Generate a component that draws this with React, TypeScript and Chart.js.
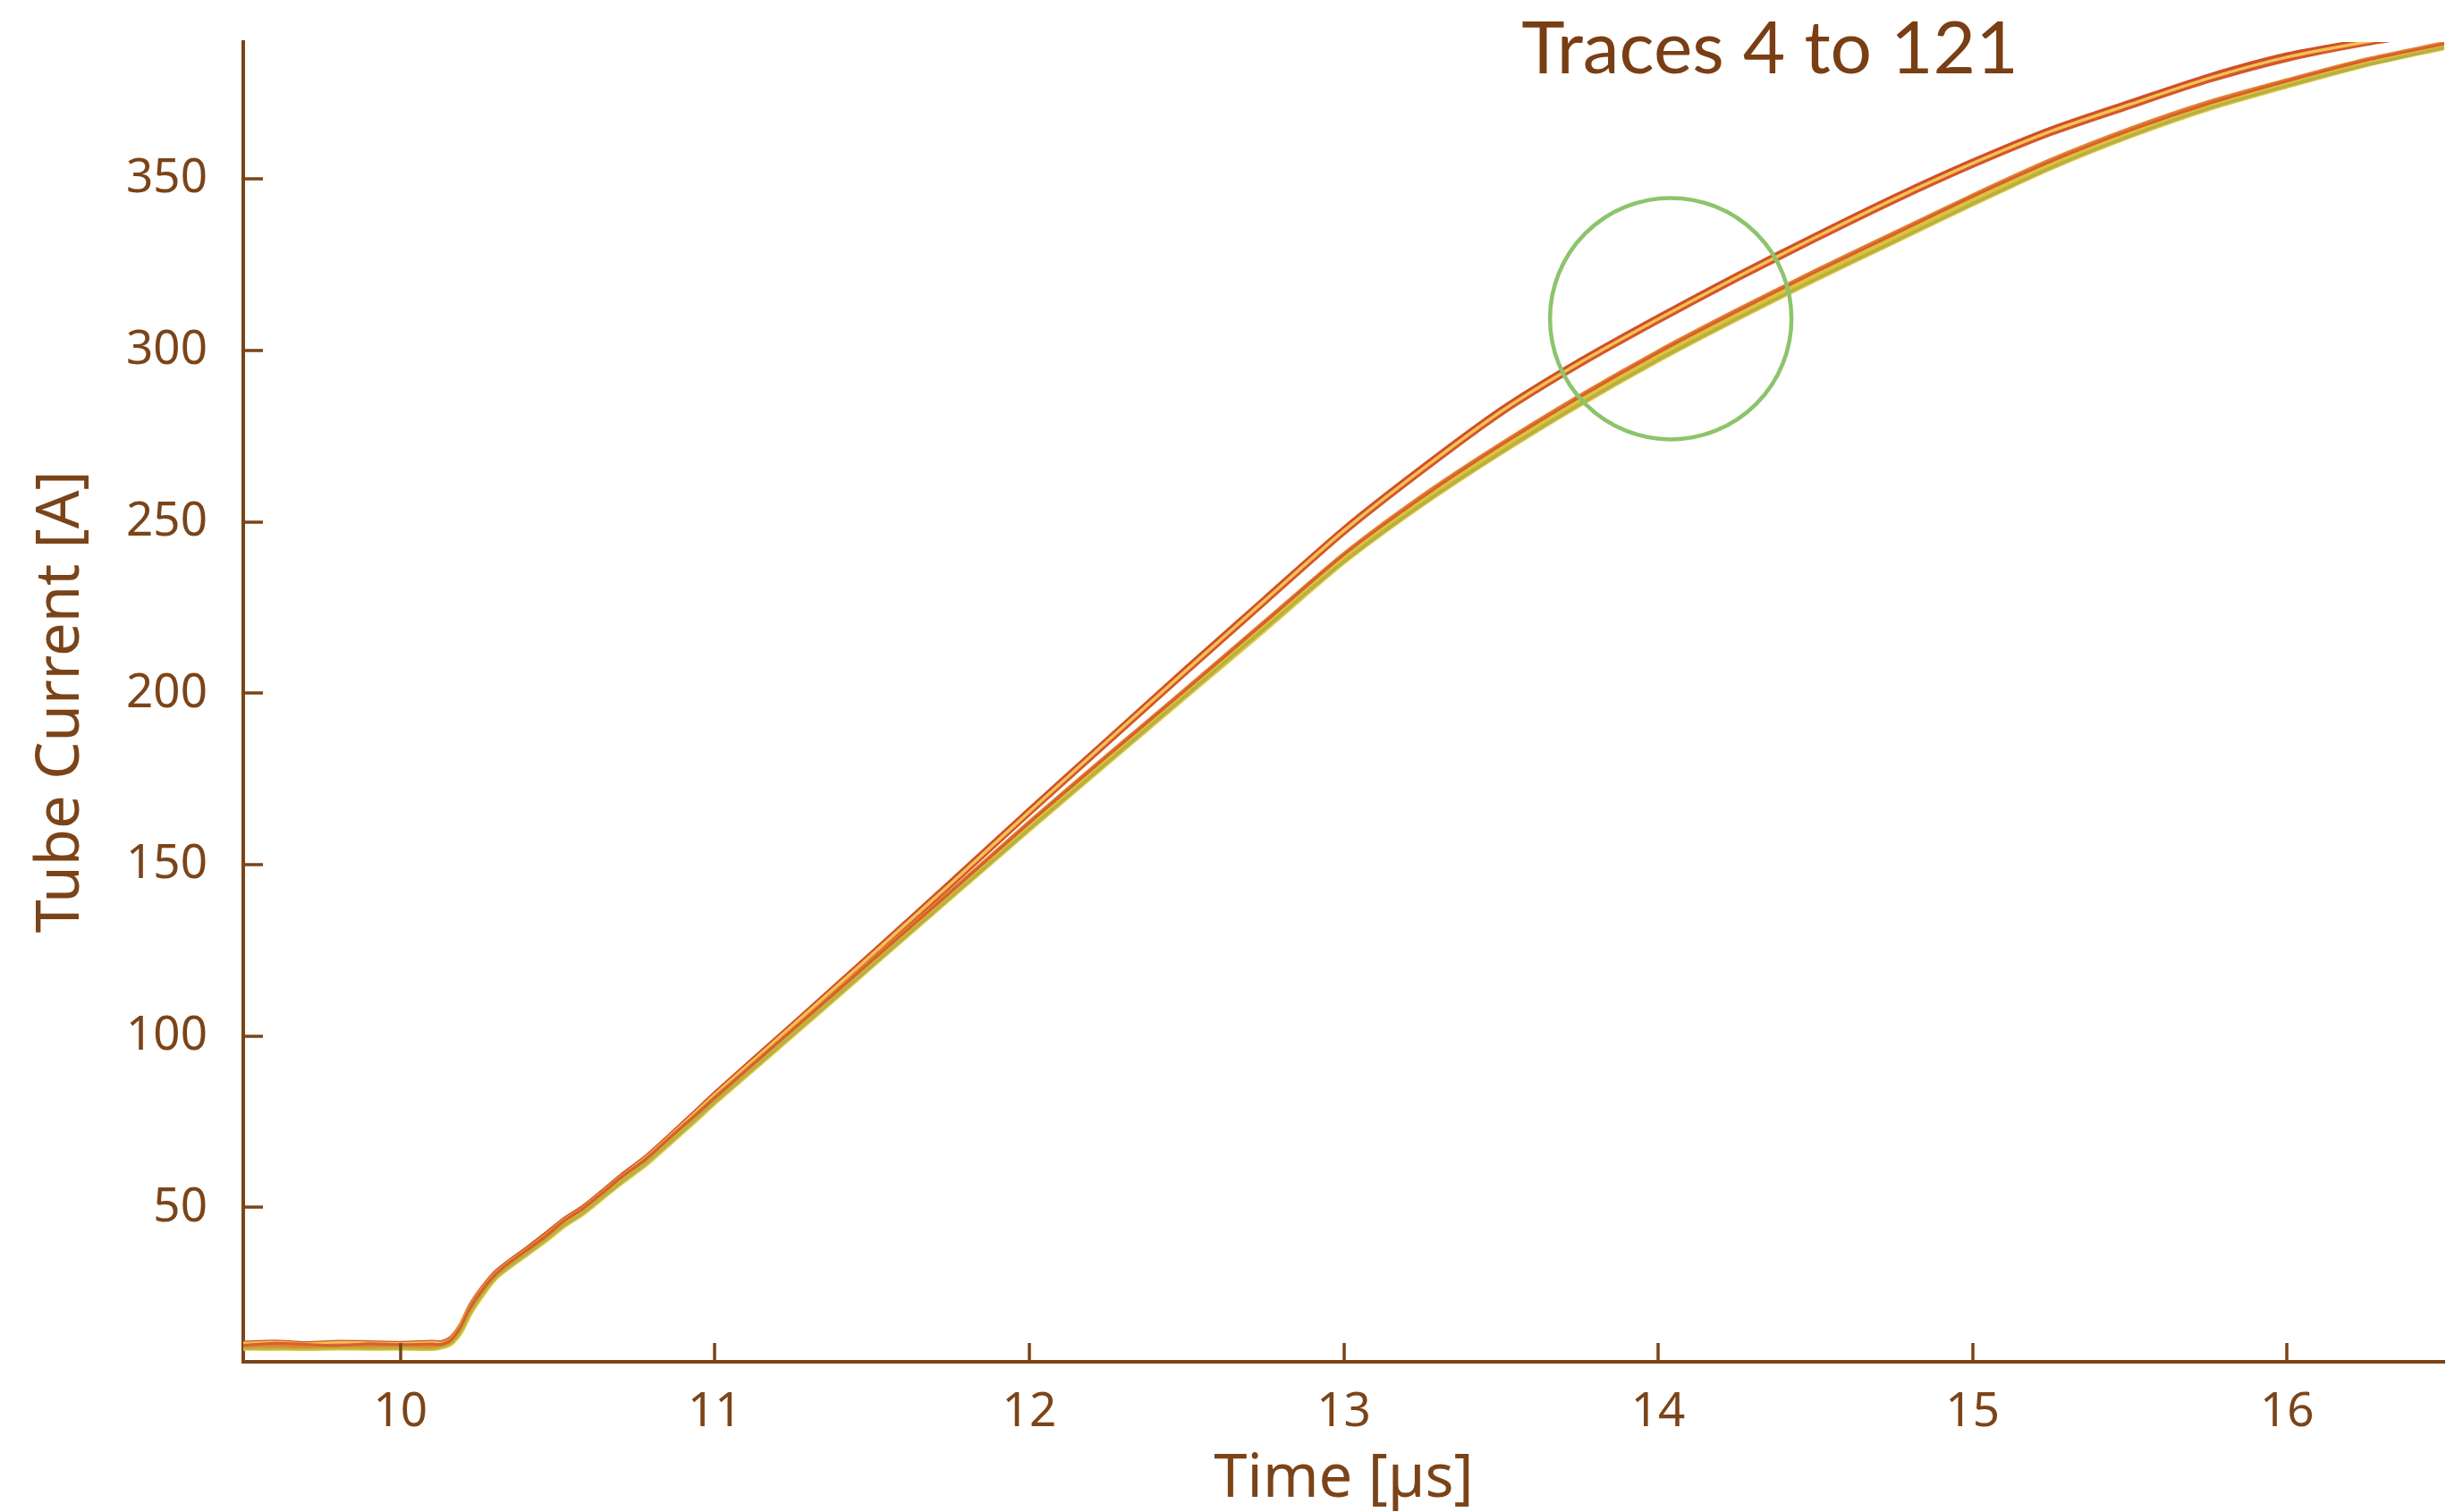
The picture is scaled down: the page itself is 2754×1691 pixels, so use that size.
import { useEffect, useRef } from "react";
import { Chart, registerables } from "chart.js";

Chart.register(...registerables);

// ---------- data ----------
const TIME_US = [
  9.5, 9.6, 9.7, 9.8, 9.9, 10.0, 10.1, 10.13, 10.16, 10.19, 10.22, 10.26, 10.3, 10.34,
  10.4, 10.46, 10.52, 10.58, 10.64, 10.7, 10.78, 10.86, 10.94, 11.0, 11.25, 11.5, 11.75,
  12.0, 12.25, 12.5, 12.75, 13.0, 13.25, 13.5, 13.75, 14.0, 14.25, 14.5, 14.75, 15.0,
  15.25, 15.5, 15.75, 16.0, 16.25, 16.5,
];

// upper group (red / orange)
const TRACE_U1 = [
  10.2, 10.6, 10.0, 10.5, 10.3, 10.1, 10.4, 10.3, 11.4, 15.0, 20.6, 26.0, 30.4, 33.4,
  37.4, 41.6, 46.0, 49.6, 54.0, 58.6, 64.2, 70.8, 77.4, 82.6, 102.8, 123.2, 143.8,
  164.8, 185.4, 206.0, 226.4, 246.6, 264.6, 281.4, 295.6, 308.4, 320.6, 332.2, 343.4, 353.8,
  363.2, 371.0, 378.6, 384.8, 389.4, 393.0,
];
const TRACE_U2 = [
  10.6, 10.9, 10.4, 10.8, 10.7, 10.5, 10.8, 10.7, 12.0, 15.6, 21.2, 26.6, 31.0, 34.0,
  38.0, 42.2, 46.6, 50.2, 54.6, 59.2, 64.8, 71.4, 78.2, 83.4, 103.8, 124.4, 145.2,
  166.2, 186.9, 207.6, 228.0, 248.2, 266.2, 283.0, 297.2, 310.0, 322.2, 333.8, 345.0, 355.4,
  364.8, 372.6, 380.2, 386.4, 390.6, 394.6,
];
const TRACE_U3 = [
  10.4, 10.7, 10.2, 10.6, 10.5, 10.3, 10.6, 10.5, 11.7, 15.3, 20.9, 26.3, 30.7, 33.7,
  37.7, 41.9, 46.3, 49.9, 54.3, 58.9, 64.5, 71.1, 77.8, 83.0, 103.3, 123.8, 144.5,
  165.5, 186.2, 206.8, 227.2, 247.4, 265.4, 282.2, 296.4, 309.2, 321.4, 333.0, 344.2, 354.6,
  364.0, 371.8, 379.4, 385.6, 390.0, 393.8,
];

// lower group (yellow / olive / orange)
const TRACE_L1 = [
  9.4, 9.2, 9.5, 9.3, 9.4, 9.5, 9.3, 9.8, 11.0, 14.5, 20.0, 25.5, 30.0, 33.0,
  37.0, 41.0, 45.5, 49.0, 53.5, 58.0, 63.5, 70.0, 76.5, 81.5, 101.5, 121.5, 141.5,
  161.5, 181.0, 200.5, 220.0, 239.5, 256.5, 271.5, 285.5, 298.5, 310.5, 322.0, 333.0, 344.0,
  354.5, 363.5, 371.5, 378.0, 384.0, 389.0,
];
const TRACE_L2 = [
  9.0, 9.1, 9.0, 9.2, 9.0, 9.1, 9.0, 9.4, 10.5, 13.8, 19.2, 24.8, 29.4, 32.4,
  36.4, 40.5, 44.8, 48.4, 52.8, 57.2, 62.8, 69.2, 75.8, 80.8, 100.6, 120.6, 140.5,
  160.4, 180.0, 199.5, 219.0, 238.4, 255.2, 270.3, 284.3, 297.3, 309.3, 320.8, 331.8, 342.8,
  353.4, 362.6, 370.6, 377.2, 383.2, 388.4,
];
const TRACE_L3 = [
  9.6, 9.8, 9.5, 9.9, 9.7, 9.9, 9.6, 10.2, 11.6, 15.2, 20.8, 26.2, 30.6, 33.6,
  37.6, 41.8, 46.2, 49.8, 54.2, 58.8, 64.2, 70.8, 77.2, 82.2, 102.2, 122.4, 142.4,
  162.6, 182.2, 201.6, 221.2, 240.8, 257.8, 272.9, 286.9, 299.9, 311.9, 323.4, 334.4, 345.4,
  355.8, 364.8, 372.6, 379.0, 385.0, 389.8,
];
const TRACE_L4 = [
  9.2, 9.3, 9.1, 9.3, 9.2, 9.2, 9.1, 9.5, 10.6, 13.9, 19.4, 24.9, 29.6, 32.6,
  36.6, 40.6, 45.0, 48.6, 53.0, 57.4, 62.9, 69.4, 75.9, 81.0, 100.8, 120.8, 140.8,
  160.6, 180.2, 199.6, 219.0, 238.6, 255.4, 270.5, 284.5, 297.5, 309.5, 321.0, 332.0, 343.0,
  353.6, 362.8, 370.8, 377.4, 383.6, 388.6,
];
const TRACE_L5 = [
  9.8, 10.4, 10.1, 9.7, 10.3, 10.0, 10.2, 10.0, 11.2, 14.9, 20.4, 25.8, 30.2, 33.4,
  37.4, 41.4, 46.0, 49.6, 54.0, 58.6, 64.0, 70.6, 77.0, 82.0, 102.0, 122.0, 142.0,
  162.2, 181.8, 201.2, 220.8, 240.4, 257.2, 272.4, 286.4, 299.4, 311.4, 322.9, 333.9, 344.9,
  355.2, 364.2, 372.0, 378.6, 384.6, 389.4,
];

const X_TICKS = [10, 11, 12, 13, 14, 15, 16];
const Y_TICKS = [50, 100, 150, 200, 250, 300, 350];
const X_RANGE = [9.5, 16.5];
const Y_RANGE = [5, 390];

const CIRCLE_X = [14.04];
const CIRCLE_Y = [309.3];

const TITLE = "Traces 4 to 121";
const X_TITLE = "Time [µs]";
const Y_TITLE = "Tube Current [A]";

// ---------- styles ----------
const BROWN = "#7b4418";
const TITLE_BROWN = "#7a3e14";
const GREEN = "#8cc46b";
const TICK_FONT = "Noto Sans";

export default function App() {
  const ref = useRef<HTMLCanvasElement | null>(null);

  useEffect(() => {
    document.body.style.margin = "0";
    const canvas = ref.current;
    if (!canvas) return;

    const pts = (ys: number[]) => TIME_US.map((x, i) => ({ x, y: ys[i] }));

    const lineDs = (ys: number[], color: string, width: number) => ({
      type: "line" as const,
      data: pts(ys),
      borderColor: color,
      backgroundColor: color,
      borderWidth: width,
      pointRadius: 0,
      pointHoverRadius: 0,
      tension: 0.25,
      fill: false,
    });

    const zeroPad = (s: any) => {
      s.paddingTop = 0;
      s.paddingBottom = 0;
      s.paddingLeft = 0;
      s.paddingRight = 0;
    };

    const inwardTicks = {
      id: "inwardTicks",
      afterDraw(chart: any) {
        const { ctx, chartArea, scales } = chart;
        ctx.save();
        ctx.strokeStyle = BROWN;
        ctx.lineWidth = 3.5;
        ctx.beginPath();
        for (const v of X_TICKS) {
          const px = Math.round(scales.x.getPixelForValue(v));
          ctx.moveTo(px, chartArea.bottom);
          ctx.lineTo(px, chartArea.bottom - 21);
        }
        for (const v of Y_TICKS) {
          const py = Math.round(scales.y.getPixelForValue(v));
          ctx.moveTo(chartArea.left, py);
          ctx.lineTo(chartArea.left + 22, py);
        }
        ctx.stroke();
        ctx.restore();
      },
    };

    const cornerTitle = {
      id: "cornerTitle",
      afterDraw(chart: any) {
        const ctx = chart.ctx;
        ctx.save();
        ctx.font = "82px Lato";
        ctx.fillStyle = TITLE_BROWN;
        ctx.textAlign = "center";
        ctx.textBaseline = "alphabetic";
        ctx.fillText(TITLE, 1979, 82);
        ctx.restore();
      },
    };

    const chart = new Chart(canvas, {
      type: "line",
      data: {
        datasets: [
          {
            type: "scatter" as const,
            data: CIRCLE_X.map((x, i) => ({ x, y: CIRCLE_Y[i] })),
            pointRadius: 135,
            pointHoverRadius: 135,
            pointBorderWidth: 4.5,
            pointBorderColor: GREEN,
            pointBackgroundColor: "rgba(0,0,0,0)",
            showLine: false,
            clip: false as any,
          },
          lineDs(TRACE_L5, "#d8602c", 3),
          lineDs(TRACE_L3, "#e2802f", 3.5),
          lineDs(TRACE_L2, "#b8af42", 3.5),
          lineDs(TRACE_L1, "#dcc23c", 7.5),
          lineDs(TRACE_L4, "#e2c940", 7.5),
          lineDs(TRACE_U3, "#f4c155", 3.5),
          lineDs(TRACE_U1, "#d4572b", 4.5),
          lineDs(TRACE_U2, "#cf5028", 4.5),
        ] as any,
      },
      options: {
        responsive: false,
        animation: false,
        events: [],
        layout: { autoPadding: false, padding: { top: 47, right: 21, bottom: 0, left: 0 } },
        plugins: {
          legend: { display: false },
          title: { display: false },
          tooltip: { enabled: false },
        },
        scales: {
          x: {
            type: "linear",
            min: X_RANGE[0],
            max: X_RANGE[1],
            afterBuildTicks: (s: any) => {
              s.ticks = X_TICKS.map((v) => ({ value: v }));
            },
            afterFit: (s: any) => {
              s.height = 168;
              zeroPad(s);
            },
            grid: { display: false, drawTicks: false },
            border: { display: true, color: BROWN, width: 4 },
            ticks: {
              color: BROWN,
              font: { family: TICK_FONT, size: 53 },
              padding: 25,
              maxRotation: 0,
              autoSkip: false,
            },
            title: {
              display: true,
              text: X_TITLE,
              color: BROWN,
              font: { family: TICK_FONT, size: 67, lineHeight: 1.0 },
              padding: { top: 0, bottom: 3 },
            },
          },
          y: {
            type: "linear",
            min: Y_RANGE[0],
            max: Y_RANGE[1],
            afterBuildTicks: (s: any) => {
              s.ticks = Y_TICKS.map((v) => ({ value: v }));
            },
            afterFit: (s: any) => {
              s.width = 272;
              zeroPad(s);
            },
            grid: { display: false, drawTicks: false },
            border: { display: true, color: BROWN, width: 4 },
            ticks: {
              color: BROWN,
              font: { family: TICK_FONT, size: 53 },
              padding: 40,
              autoSkip: false,
            },
            title: {
              display: true,
              text: Y_TITLE,
              color: BROWN,
              font: { family: TICK_FONT, size: 67 },
              padding: { top: 29, bottom: 0 },
            },
          },
        },
      } as any,
      plugins: [inwardTicks, cornerTitle],
    });

    return () => chart.destroy();
  }, []);

  return (
    <canvas
      ref={ref}
      width={2754}
      height={1691}
      style={{ display: "block", width: 2754, height: 1691 }}
    />
  );
}
